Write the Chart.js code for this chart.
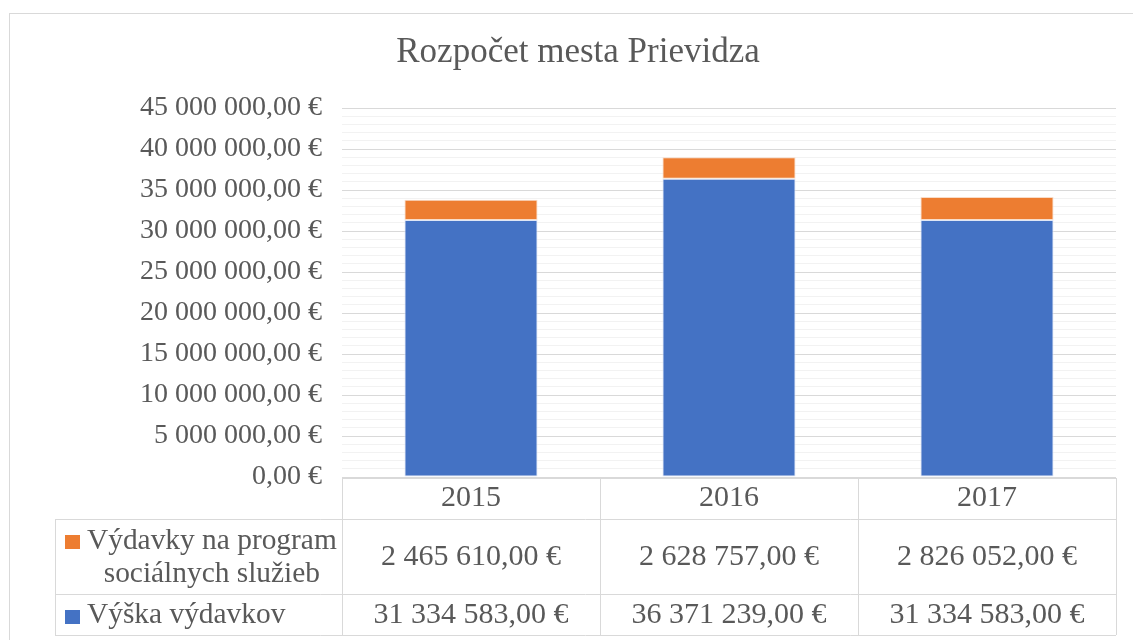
<!DOCTYPE html>
<html>
<head>
<meta charset="utf-8">
<script src="https://cdn.jsdelivr.net/npm/chart.js@4"></script>
<style>
  html, body { margin: 0; padding: 0; background: #fff; }
  #wrap { width: 1133px; height: 640px; position: relative; }
</style>
</head>
<body>
<div id="wrap"><canvas id="graf"></canvas></div>
<script>
const roky = ["2015", "2016", "2017"];
const vyskaVydavkov = [31334583, 36371239, 31334583];
const socialneSluzby = [2465610, 2628757, 2826052];
const nazovVyska = "Výška výdavkov";
const nazovSocialne = "Výdavky na program sociálnych služieb";
// riadky tabulky pod grafom (zalomene ako v originale)
const riadkyTabulky = [
  { lines: ["Výdavky na program", "sociálnych služieb"], data: socialneSluzby, color: "#ED7D31" },
  { lines: ["Výška výdavkov"], data: vyskaVydavkov, color: "#4472C4" },
];

const PISMO = "'Liberation Serif', 'Times New Roman', serif";
const SEDA = "#595959";

function formatEur(v) {
  const cele = Math.round(v).toString().replace(/\B(?=(\d{3})+(?!\d))/g, " ");
  return cele + ",00 €";
}

// tabulka s hodnotami pod osou x
const tabulkaPlugin = {
  id: "tabulka",
  beforeDraw(chart) {
    const ctx = chart.ctx;
    ctx.save();
    ctx.strokeStyle = "#d9d9d9";
    ctx.lineWidth = 1;
    ctx.strokeRect(9.5, 13.5, 1200, 700);
    ctx.restore();
  },
  afterDraw(chart) {
    const ctx = chart.ctx;
    const area = chart.chartArea;
    const xs = chart.scales.x;
    const sirka = (area.right - area.left) / roky.length;
    const hore = Math.round(area.bottom) + 1;
    const r1 = hore + 41;
    const r2 = r1 + 75;
    const dole = r2 + 41;
    const lavo = 55;

    ctx.save();
    ctx.strokeStyle = "#d9d9d9";
    ctx.lineWidth = 1;
    ctx.beginPath();
    // vodorovne ciary
    ctx.moveTo(area.left, hore + 0.5); ctx.lineTo(area.right, hore + 0.5);
    [r1, r2, dole].forEach((y) => {
      ctx.moveTo(lavo, y + 0.5); ctx.lineTo(area.right, y + 0.5);
    });
    // zvisle ciary
    ctx.moveTo(lavo + 0.5, r1); ctx.lineTo(lavo + 0.5, dole);
    for (let i = 0; i <= roky.length; i++) {
      const x = Math.round(area.left + i * sirka) + 0.5;
      ctx.moveTo(x, hore); ctx.lineTo(x, dole);
    }
    ctx.stroke();

    ctx.fillStyle = SEDA;
    ctx.font = "30px " + PISMO;
    ctx.textAlign = "center";
    ctx.textBaseline = "middle";
    roky.forEach((rok, i) => {
      const cx = xs.getPixelForValue(i);
      ctx.fillText(rok, cx, (hore + r1) / 2);
    });

    const riadky = [[r1, r2], [r2, dole]];
    riadkyTabulky.forEach((riadok, k) => {
      const stred = (riadky[k][0] + riadky[k][1]) / 2 + 1;
      ctx.font = "30px " + PISMO;
      riadok.data.forEach((v, i) => {
        ctx.fillStyle = SEDA;
        ctx.textAlign = "center";
        ctx.fillText(formatEur(v), xs.getPixelForValue(i), stred);
      });
      // popis riadku s legendou
      ctx.font = "29.4px " + PISMO;
      const lh = 33;
      const n = riadok.lines.length;
      const maxW = Math.max(...riadok.lines.map((l) => ctx.measureText(l).width));
      const zx = 87;
      riadok.lines.forEach((l, j) => {
        const y = stred + (j - (n - 1) / 2) * lh;
        ctx.fillStyle = SEDA;
        ctx.textAlign = "center";
        ctx.fillText(l, zx + maxW / 2, y);
        if (j === 0) {
          ctx.fillStyle = riadok.color;
          ctx.fillRect(65, Math.round(y - 6), 15, 14);
        }
      });
    });
    ctx.restore();
  },
};

new Chart(document.getElementById("graf"), {
  type: "bar",
  data: {
    labels: roky,
    datasets: [
      {
        label: nazovVyska,
        data: vyskaVydavkov,
        backgroundColor: "#4472C4",
        borderColor: "#dfe6f5",
        borderWidth: 1,
        borderSkipped: false,
      },
      {
        label: nazovSocialne,
        data: socialneSluzby,
        backgroundColor: "#ED7D31",
        borderColor: "#f8dcc8",
        borderWidth: 1,
        borderSkipped: false,
      },
    ],
  },
  options: {
    responsive: true,
    maintainAspectRatio: false,
    animation: false,
    layout: { padding: { top: 32, left: 40, right: 17, bottom: 5 } },
    plugins: {
      legend: { display: false },
      tooltip: { enabled: false },
      title: {
        display: true,
        text: "Rozpočet mesta Prievidza",
        color: SEDA,
        font: { family: PISMO, size: 35, weight: "normal" },
        padding: { top: 0, bottom: 34 },
      },
    },
    datasets: {
      bar: { categoryPercentage: 1, barPercentage: 0.516 },
    },
    scales: {
      x: {
        stacked: true,
        grid: { display: false },
        border: { display: false },
        ticks: { display: false },
        afterFit: (scale) => { scale.height = 158; },
      },
      y: {
        stacked: true,
        min: 0,
        max: 45000000,
        border: { display: false },
        grid: {
          drawTicks: false,
          color: (c) => (c.tick.value % 5000000 === 0 ? "#d9d9d9" : "#f2f2f2"),
        },
        ticks: {
          stepSize: 1000000,
          maxTicksLimit: 100,
          autoSkip: false,
          padding: 20,
          color: SEDA,
          font: { family: PISMO, size: 28 },
          callback: (v) => (v % 5000000 === 0 ? formatEur(v) : ""),
        },
        afterFit: (scale) => { scale.width = 302; },
      },
    },
  },
  plugins: [tabulkaPlugin],
});
</script>
</body>
</html>
